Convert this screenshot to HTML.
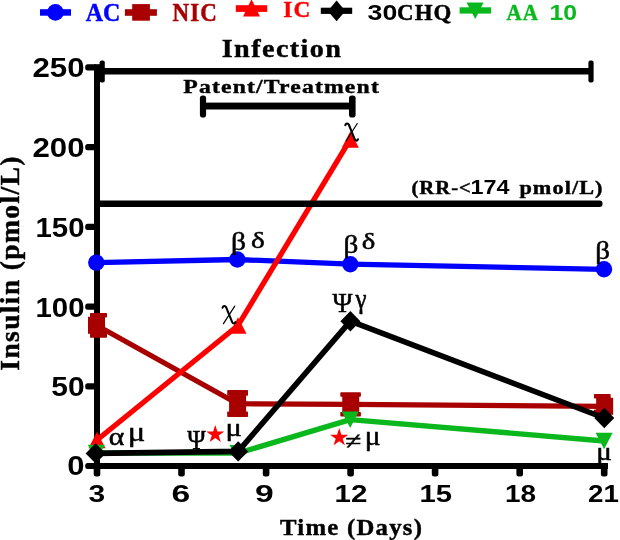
<!DOCTYPE html>
<html><head><meta charset="utf-8"><title>Insulin chart</title>
<style>
html,body{margin:0;padding:0;background:#fff;}
body{width:620px;height:540px;overflow:hidden;}
svg{display:block;}
text{font-family:"Liberation Serif",serif;}
#txt{opacity:0.999;}
text.sans{font-family:"Liberation Sans",sans-serif;}
</style></head><body>
<svg width="620" height="540" viewBox="0 0 620 540">
<rect width="620" height="540" fill="#fff"/>
<rect x="94" y="64.2" width="6" height="404.8" fill="#000"/>
<rect x="94" y="463" width="514" height="6" fill="#000"/>
<rect x="85.2" y="462.9" width="12" height="6.2" rx="2.5" fill="#000"/>
<rect x="85.2" y="383.2" width="12" height="6.2" rx="2.5" fill="#000"/>
<rect x="85.2" y="303.5" width="12" height="6.2" rx="2.5" fill="#000"/>
<rect x="85.2" y="223.7" width="12" height="6.2" rx="2.5" fill="#000"/>
<rect x="85.2" y="144.0" width="12" height="6.2" rx="2.5" fill="#000"/>
<rect x="85.2" y="64.3" width="12" height="6.2" rx="2.5" fill="#000"/>
<rect x="93.7" y="465" width="6.6" height="11.4" rx="2.5" fill="#000"/>
<rect x="178.2" y="465" width="6.6" height="11.4" rx="2.5" fill="#000"/>
<rect x="262.8" y="465" width="6.6" height="11.4" rx="2.5" fill="#000"/>
<rect x="347.3" y="465" width="6.6" height="11.4" rx="2.5" fill="#000"/>
<rect x="431.8" y="465" width="6.6" height="11.4" rx="2.5" fill="#000"/>
<rect x="516.4" y="465" width="6.6" height="11.4" rx="2.5" fill="#000"/>
<rect x="600.9" y="465" width="6.6" height="11.4" rx="2.5" fill="#000"/>
<polyline points="96.3,262.6 237.3,259.5 350.3,264.2 604.0,269.3" fill="none" stroke="#0000ff" stroke-width="5.3" stroke-linejoin="round" stroke-linecap="butt"/>
<circle cx="96.3" cy="262.6" r="8.2" fill="#0000ff"/>
<circle cx="237.3" cy="259.5" r="8.2" fill="#0000ff"/>
<circle cx="350.3" cy="264.2" r="8.2" fill="#0000ff"/>
<circle cx="604.0" cy="269.3" r="8.2" fill="#0000ff"/>
<polyline points="96.5,325.3 237.6,403.7 350.8,404.3 604.6,406.3" fill="none" stroke="#a80000" stroke-width="5.3" stroke-linejoin="round" stroke-linecap="butt"/>
<rect x="88.00" y="316.80" width="17" height="17" fill="#a80000"/><rect x="90.00" y="313.00" width="17" height="4.50" rx="0.8" fill="#a80000"/><rect x="90.00" y="333.10" width="17" height="4.60" rx="0.8" fill="#a80000"/>
<rect x="229.10" y="395.10" width="17" height="17" fill="#a80000"/><rect x="227.20" y="390.00" width="20.8" height="5.80" rx="0.8" fill="#a80000"/><rect x="227.20" y="411.40" width="20.8" height="5.60" rx="0.8" fill="#a80000"/>
<rect x="342.25" y="395.80" width="17" height="17" fill="#a80000"/><rect x="340.30" y="392.20" width="20.6" height="4.50" rx="0.8" fill="#a80000"/><rect x="340.30" y="412.00" width="20.6" height="4.50" rx="0.8" fill="#a80000"/>
<rect x="596.15" y="397.80" width="17" height="17" fill="#a80000"/><rect x="593.90" y="394.10" width="16.8" height="4.50" rx="0.8" fill="#a80000"/><rect x="593.90" y="409.50" width="16.8" height="4.50" rx="0.8" fill="#a80000"/>
<polyline points="97.0,440.0 238.0,325.5 350.3,139.4" fill="none" stroke="#ff0000" stroke-width="5.3" stroke-linejoin="round" stroke-linecap="butt"/>
<polygon points="97.0,431.8 105.5,448.2 88.5,448.2" fill="#ff0000"/>
<polygon points="238.0,317.2 246.5,333.8 229.5,333.8" fill="#ff0000"/>
<polygon points="350.3,131.2 358.8,147.7 341.8,147.7" fill="#ff0000"/>
<polyline points="96.3,453.0 238.0,453.1 350.2,419.6 604.1,441.0" fill="none" stroke="#0ab81e" stroke-width="5.4" stroke-linejoin="round" stroke-linecap="butt"/>
<polygon points="96.3,461.2 104.8,444.8 87.8,444.8" fill="#0ab81e"/>
<polygon points="238.0,461.4 246.5,444.9 229.5,444.9" fill="#0ab81e"/>
<polygon points="350.2,427.9 358.7,411.4 341.7,411.4" fill="#0ab81e"/>
<polygon points="604.1,449.2 612.6,432.8 595.6,432.8" fill="#0ab81e"/>
<polyline points="95.6,453.4 238.2,451.4 350.4,321.2 604.3,418.0" fill="none" stroke="#000000" stroke-width="5.6" stroke-linejoin="round" stroke-linecap="butt"/>
<polygon points="95.6,443.2 105.6,453.4 95.6,463.6 85.6,453.4" fill="#000000"/>
<polygon points="238.2,441.2 248.2,451.4 238.2,461.6 228.2,451.4" fill="#000000"/>
<polygon points="350.4,311.0 360.4,321.2 350.4,331.4 340.4,321.2" fill="#000000"/>
<polygon points="604.3,407.8 614.3,418.0 604.3,428.2 594.3,418.0" fill="#000000"/>
<rect x="97" y="200.5" width="505.5" height="6.4" rx="3" fill="#000"/>
<rect x="97" y="68" width="494" height="6.5" fill="#000"/>
<rect x="99.6" y="60.4" width="5.2" height="22.2" rx="2" fill="#000"/>
<rect x="588.4" y="60.4" width="5.2" height="22.2" rx="2" fill="#000"/>
<rect x="203" y="102.6" width="150" height="6.9" fill="#000"/>
<rect x="199.9" y="95.5" width="6.2" height="22" rx="2.8" fill="#000"/>
<rect x="349" y="95.5" width="6.6" height="22" rx="2.8" fill="#000"/>
<rect x="40" y="9.2" width="31.0" height="6.5" fill="#0000ff"/>
<circle cx="55.4" cy="12.4" r="8.3" fill="#0000ff"/>
<rect x="124.9" y="9.2" width="32.0" height="6.6" fill="#a80000"/>
<rect x="132.2" y="4.1" width="17.7" height="16.6" fill="#a80000"/>
<rect x="235.8" y="5.2" width="31.4" height="6.7" fill="#ff0000"/>
<polygon points="251.5,-0.8 260,16.5 243,16.5" fill="#ff0000"/>
<rect x="320.8" y="7.7" width="31.4" height="6.2" fill="#000"/>
<polygon points="336.6,0.6 345.4,10.9 336.6,21.2 327.8,10.9" fill="#000000"/>
<rect x="459.6" y="7.3" width="31.5" height="6.3" fill="#0ab81e"/>
<polygon points="466.5,2.5 483.6,2.5 475.2,18.9" fill="#0ab81e"/>
<polygon points="215.25,424.90 217.38,431.46 224.29,431.46 218.70,435.52 220.83,442.09 215.25,438.03 209.67,442.09 211.80,435.52 206.21,431.46 213.12,431.46" fill="#ff0000"/>
<polygon points="339.20,428.00 341.36,434.63 348.33,434.63 342.69,438.73 344.84,445.37 339.20,441.27 333.56,445.37 335.71,438.73 330.07,434.63 337.04,434.63" fill="#ff0000"/>
<path d="M345.30,125.17 C345.83,123.36 347.83,122.82 348.89,124.81 L354.74,139.29 C355.54,141.10 357.27,141.10 357.93,139.29" fill="none" stroke="#000" stroke-width="2.1" stroke-linecap="round"/>
<path d="M357.27,123.54 L346.23,140.74" fill="none" stroke="#000" stroke-width="1.2" stroke-linecap="round"/>
<path d="M222.51,307.72 C223.05,305.87 225.09,305.31 226.18,307.35 L232.16,322.15 C232.98,324.00 234.75,324.00 235.43,322.15" fill="none" stroke="#000" stroke-width="2.1" stroke-linecap="round"/>
<path d="M234.75,306.06 L223.46,323.63" fill="none" stroke="#000" stroke-width="1.2" stroke-linecap="round"/>
<g id="txt">
<text transform="translate(231.03,249.65) scale(1.2297,1.0211)" font-size="24.0" fill="#000000" stroke="#000000" stroke-width="0.489">β</text>
<text transform="translate(251.12,248.36) scale(1.2195,0.9859)" font-size="24.0" fill="#000000" stroke="#000000" stroke-width="0.499">δ</text>
<text transform="translate(343.54,252.55) scale(1.2195,1.0211)" font-size="24.0" fill="#000000" stroke="#000000" stroke-width="0.491">β</text>
<text transform="translate(361.84,248.56) scale(1.1992,0.9977)" font-size="24.0" fill="#000000" stroke="#000000" stroke-width="0.501">δ</text>
<text transform="translate(595.16,258.55) scale(1.2093,1.0211)" font-size="24.0" fill="#000000" stroke="#000000" stroke-width="0.493">β</text>
<text transform="translate(332.40,311.82) scale(1.1261,1.1616)" font-size="24.0" fill="#000000" stroke="#000000" stroke-width="0.481">Ψ</text>
<text transform="translate(355.55,308.16) scale(1.0368,1.1194)" font-size="24.0" fill="#000000" stroke="#000000" stroke-width="0.510">γ</text>
<text transform="translate(108.81,444.75) scale(1.2413,1.0503)" font-size="24.0" fill="#000000" stroke="#000000" stroke-width="0.480">α</text>
<text transform="translate(127.69,440.96) scale(1.3591,1.1194)" font-size="24.0" fill="#000000" stroke="#000000" stroke-width="0.444">μ</text>
<text transform="translate(187.30,449.23) scale(1.0360,1.1111)" font-size="24.0" fill="#000000" stroke="#000000" stroke-width="0.512">Ψ</text>
<text transform="translate(225.56,436.28) scale(1.2698,1.0945)" font-size="24.0" fill="#000000" stroke="#000000" stroke-width="0.465">μ</text>
<text transform="translate(345.13,448.86) scale(1.2234,0.9906)" font-size="24.0" fill="#000000" stroke="#000000" stroke-width="0.497">≠</text>
<text transform="translate(364.84,444.62) scale(1.2302,1.1070)" font-size="24.0" fill="#000000" stroke="#000000" stroke-width="0.471">μ</text>
<text transform="translate(596.28,459.73) scale(1.2103,1.0261)" font-size="24.0" fill="#000000" stroke="#000000" stroke-width="0.492">μ</text>
<text transform="translate(85.80,20.60) scale(0.9802,1)" font-size="24.46" font-weight="bold" fill="#0000ff" stroke="#0000ff" stroke-width="0.455">AC</text>
<text transform="translate(172.47,20.70) scale(0.9466,1)" font-size="24.31" font-weight="bold" letter-spacing="1.22" fill="#a80000" stroke="#a80000" stroke-width="0.462">NIC</text>
<text transform="translate(283.20,16.60) scale(0.9677,1)" font-size="24.00" font-weight="bold" letter-spacing="1.20" fill="#ff0000" stroke="#ff0000" stroke-width="0.457">IC</text>
<text transform="translate(367.57,19.68) scale(1.1923,1)" font-size="22.39" font-weight="bold" class="sans" fill="#000000" stroke="#000000" stroke-width="0.000">30</text>
<text transform="translate(396.98,19.50) scale(0.9798,1)" font-size="23.38" font-weight="bold" letter-spacing="1.17" fill="#000000" stroke="#000000" stroke-width="0.455">CHQ</text>
<text transform="translate(506.40,19.80) scale(0.8825,1)" font-size="23.85" font-weight="bold" letter-spacing="1.19" fill="#0ab81e" stroke="#0ab81e" stroke-width="0.478">AA</text>
<text transform="translate(549.51,19.68) scale(1.1215,1)" font-size="22.11" font-weight="bold" class="sans" fill="#0ab81e" stroke="#0ab81e" stroke-width="0.000">10</text>
<text transform="translate(221.76,56.60) scale(1.1095,1)" font-size="25.38" font-weight="bold" letter-spacing="1.27" fill="#000000" stroke="#000000" stroke-width="0.427">Infection</text>
<text transform="translate(183.26,93.20) scale(1.2311,1)" font-size="19.23" font-weight="bold" letter-spacing="0.96" fill="#000000" stroke="#000000" stroke-width="0.403">Patent/Treatment</text>
<text transform="translate(411.48,193.70) scale(1.0802,1)" font-size="19.08" font-weight="bold" letter-spacing="0.95" fill="#000000" stroke="#000000" stroke-width="0.433">(RR-&lt;</text>
<text transform="translate(470.40,193.71) scale(1.2118,1)" font-size="19.30" font-weight="bold" class="sans" fill="#000000" stroke="#000000" stroke-width="0.000">174</text>
<text transform="translate(519.38,193.70) scale(1.1643,1)" font-size="19.08" font-weight="bold" letter-spacing="0.95" fill="#000000" stroke="#000000" stroke-width="0.416">pmol/L)</text>
<text transform="translate(280.05,534.80) scale(1.0459,1)" font-size="23.69" font-weight="bold" letter-spacing="1.18" fill="#000000" stroke="#000000" stroke-width="0.440">Time (Days)</text>
<text transform="translate(32.46,76.83) scale(1.1684,1)" font-size="26.76" font-weight="bold" class="sans" fill="#000000" stroke="#000000" stroke-width="0.000">250</text>
<text transform="translate(32.46,156.73) scale(1.1684,1)" font-size="26.76" font-weight="bold" class="sans" fill="#000000" stroke="#000000" stroke-width="0.000">200</text>
<text transform="translate(35.43,236.93) scale(1.1004,1)" font-size="26.76" font-weight="bold" class="sans" fill="#000000" stroke="#000000" stroke-width="0.000">150</text>
<text transform="translate(35.43,317.13) scale(1.1004,1)" font-size="26.76" font-weight="bold" class="sans" fill="#000000" stroke="#000000" stroke-width="0.000">100</text>
<text transform="translate(51.20,395.93) scale(1.1216,1)" font-size="26.76" font-weight="bold" class="sans" fill="#000000" stroke="#000000" stroke-width="0.000">50</text>
<text transform="translate(67.37,475.23) scale(1.1592,1)" font-size="26.76" font-weight="bold" class="sans" fill="#000000" stroke="#000000" stroke-width="0.000">0</text>
<text transform="translate(88.40,501.75) scale(1.2102,1)" font-size="24.79" font-weight="bold" class="sans" fill="#000000" stroke="#000000" stroke-width="0.000">3</text>
<text transform="translate(171.49,501.75) scale(1.3584,1)" font-size="24.79" font-weight="bold" class="sans" fill="#000000" stroke="#000000" stroke-width="0.000">6</text>
<text transform="translate(254.99,501.75) scale(1.3584,1)" font-size="24.79" font-weight="bold" class="sans" fill="#000000" stroke="#000000" stroke-width="0.000">9</text>
<text transform="translate(334.53,501.75) scale(1.1910,1)" font-size="24.79" font-weight="bold" class="sans" fill="#000000" stroke="#000000" stroke-width="0.000">12</text>
<text transform="translate(419.55,501.75) scale(1.1794,1)" font-size="24.79" font-weight="bold" class="sans" fill="#000000" stroke="#000000" stroke-width="0.000">15</text>
<text transform="translate(504.92,501.75) scale(1.1283,1)" font-size="24.79" font-weight="bold" class="sans" fill="#000000" stroke="#000000" stroke-width="0.000">18</text>
<text transform="translate(587.97,501.75) scale(1.1191,1)" font-size="24.79" font-weight="bold" class="sans" fill="#000000" stroke="#000000" stroke-width="0.000">21</text>
<text transform="translate(18.90,370.63) rotate(-90) scale(1.0275,1)" font-size="26.77" font-weight="bold" letter-spacing="1.34" fill="#000000" stroke="#000000" stroke-width="0.444">Insulin (pmol/L)</text>
</g>
</svg>
</body></html>
